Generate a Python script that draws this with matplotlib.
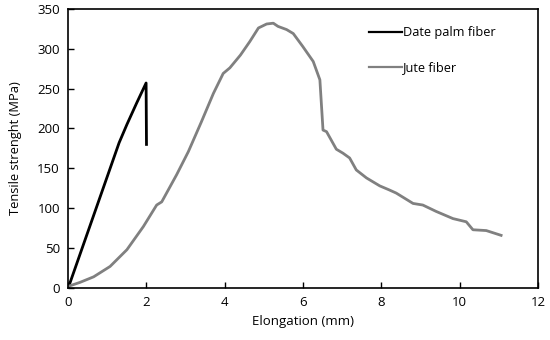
import matplotlib.pyplot as plt

plt.rcParams['font.family'] = ['Open Sans', 'DejaVu Sans']

# Date palm fiber (elongation mm, stress MPa)
palm_x = [0, 0.5, 1.0, 1.3, 1.5, 1.75, 1.99, 2.0]
palm_y = [0, 70, 140, 182, 205, 232, 257, 180]

# Jute fiber
jute_x = [0, 0.3, 0.65, 1.07, 1.5, 1.92, 2.26, 2.39, 2.77, 3.07, 3.4, 3.71,
          3.96, 4.13, 4.4, 4.64, 4.86, 5.07, 5.24, 5.36, 5.58, 5.75, 5.99, 6.26,
          6.43, 6.51, 6.6, 6.85, 7.02, 7.19, 7.36, 7.62, 7.96, 8.2, 8.38, 8.81,
          9.06, 9.4, 9.83, 10.17, 10.34, 10.68, 11.06]
jute_y = [2, 7, 14, 27, 48, 77, 104, 108, 142, 171, 208, 244,
          269, 276, 292, 309, 326, 331, 332, 328, 324, 319, 303, 284,
          261, 198, 196, 174, 169, 163, 148, 138, 128, 123, 119, 106,
          104, 96, 87, 83, 73, 72, 66]

fig, ax = plt.subplots(figsize=(5.5, 3.4), dpi=100)
fig.subplots_adjust(left=0.124, right=0.978, top=0.974, bottom=0.153)

ax.plot(palm_x, palm_y, color='black', linewidth=2, label='Date palm fiber')
ax.plot(jute_x, jute_y, color='#808080', linewidth=2, label='Jute fiber')

ax.set_xlim(0, 12)
ax.set_ylim(0, 350)
ax.set_xticks(range(0, 13, 2))
ax.set_yticks(range(0, 351, 50))
ax.tick_params(direction='in', length=4, width=1, labelsize=9.5, pad=6)
for s in ax.spines.values():
    s.set_linewidth(1.2)

ax.set_xlabel('Elongation (mm)', fontsize=9.5)
ax.set_ylabel('Tensile strenght (MPa)', fontsize=9.3, labelpad=11)

leg = ax.legend(loc='upper left', bbox_to_anchor=(0.615, 0.978), frameon=False,
                fontsize=9.2, handlelength=2.6, labelspacing=1.7, handletextpad=0.1)
for h in leg.get_lines():
    h.set_linewidth(1.6)

fig.savefig('out.png')
